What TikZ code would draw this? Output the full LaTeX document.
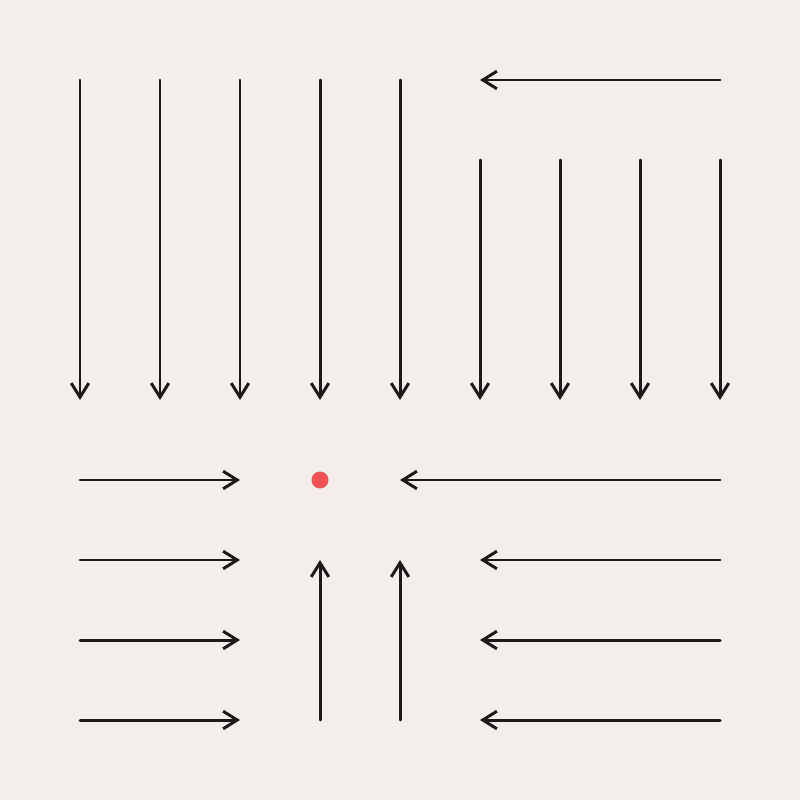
\documentclass[tikz,border=0pt]{standalone}
\usetikzlibrary{arrows.meta}
\definecolor{paper}{HTML}{F3EEEA}
\definecolor{ink}{HTML}{1C1A1A}
\definecolor{dotred}{HTML}{EF5050}
\tikzset{
  flow/.style={draw=ink, line width=0.85pt, line cap=round,
    -{Straight Barb[length=4pt, width=5pt, line width=0.85pt]}},
}
\begin{document}
\begin{tikzpicture}[x=0.8cm, y=-0.8cm]
  \fill[paper] (0,0) rectangle (10,10);
  \useasboundingbox (0,0) rectangle (10,10);
  % grid points, column c, row r
  \foreach \c in {1,...,9}
    \foreach \r in {1,...,9}
      \coordinate (c\c r\r) at (\c,\r);
  % long columns falling down
  \foreach \c in {1,...,5}
    \draw[flow] (c\c r1) -- (c\c r5);
  \draw[flow] (c9r1) -- (c6r1);
  \foreach \c in {6,...,9}
    \draw[flow] (c\c r2) -- (c\c r5);
  % the target
  \node[circle, fill=dotred, inner sep=0pt, minimum size=0.17cm] (target) at (c4r6) {};
  \draw[flow] (c1r6) -- (c3r6);
  \draw[flow] (c9r6) -- (c5r6);
  \foreach \r in {7,8,9} {
    \draw[flow] (c1r\r) -- (c3r\r);
    \draw[flow] (c9r\r) -- (c6r\r);
  }
  \draw[flow] (c4r9) -- (c4r7);
  \draw[flow] (c5r9) -- (c5r7);
\end{tikzpicture}
\end{document}
